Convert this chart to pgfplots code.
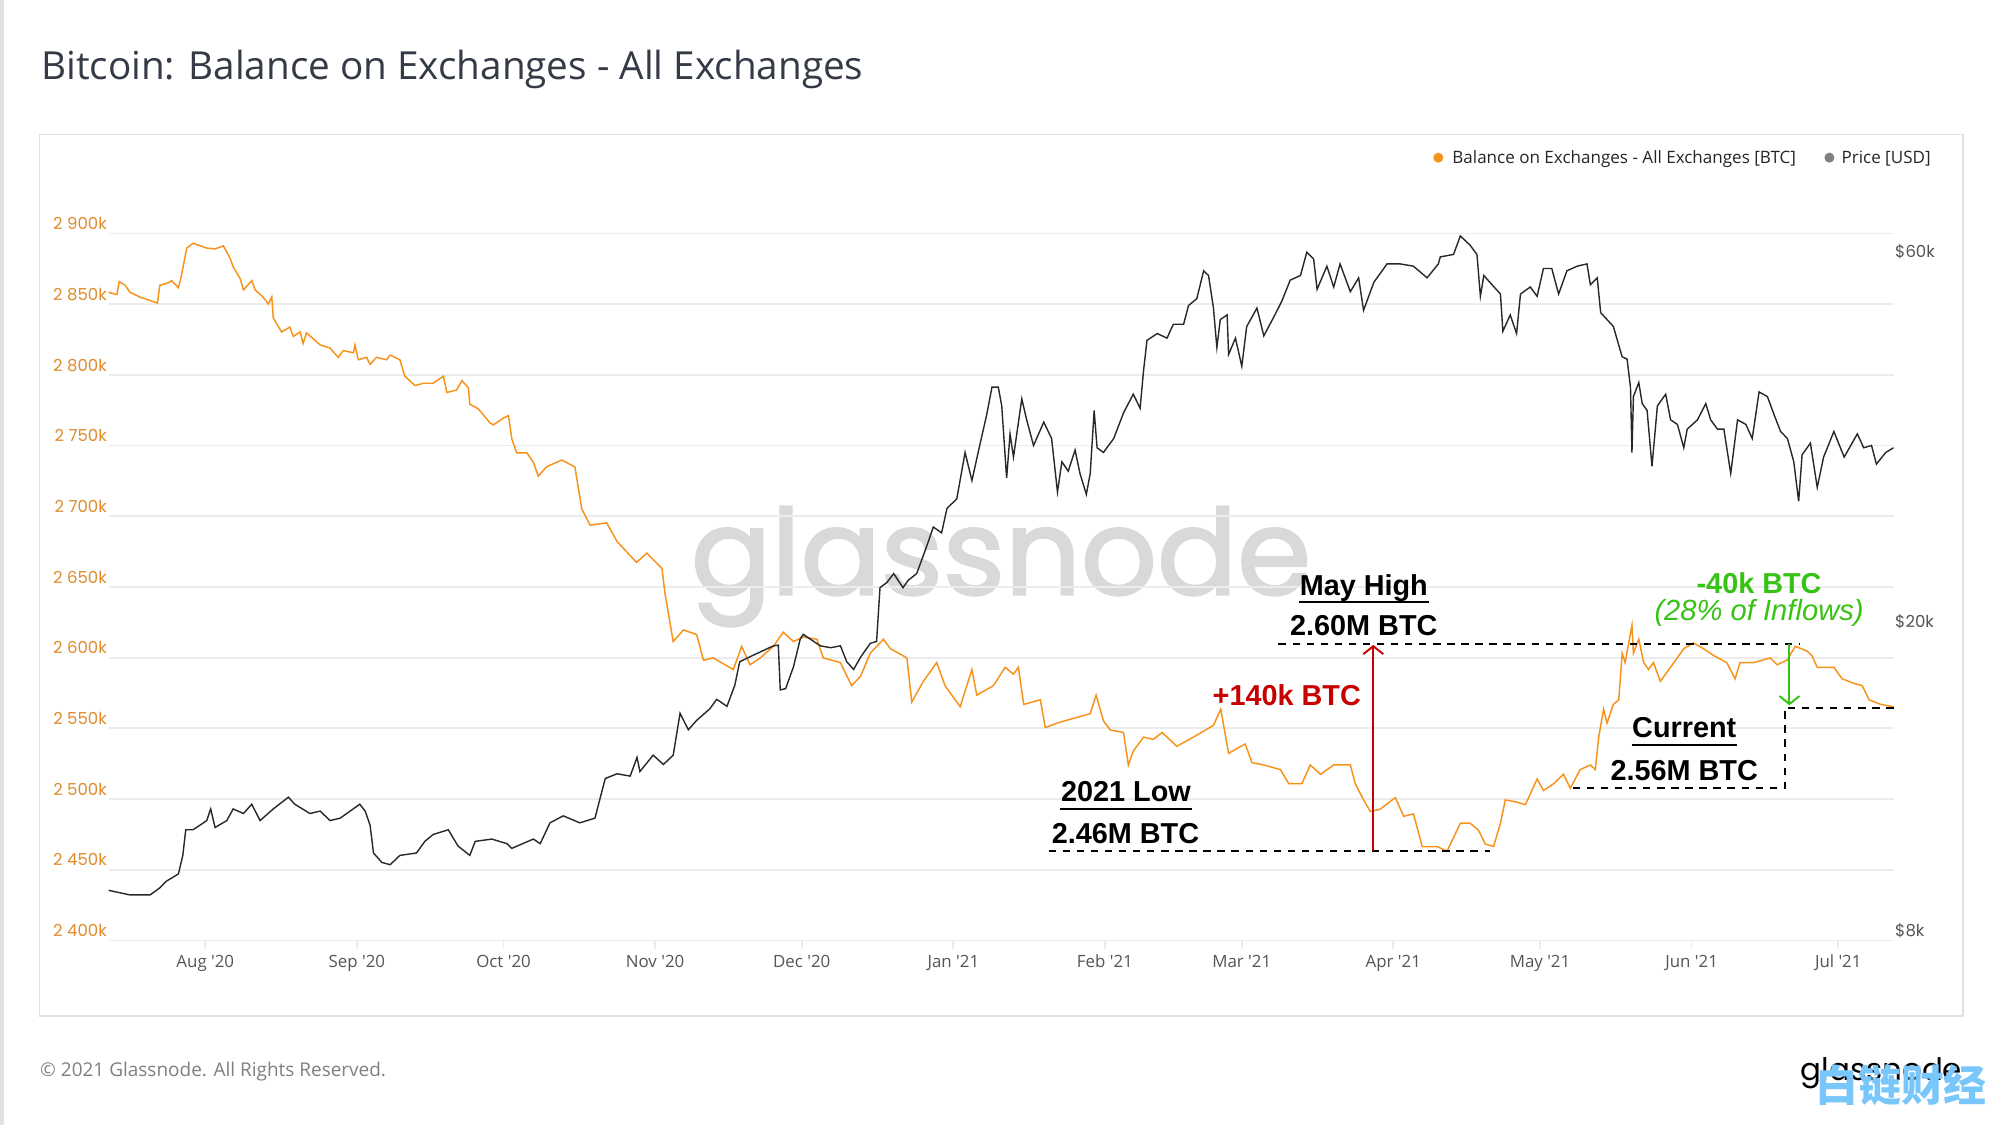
\documentclass[border=0pt]{standalone}
\usepackage{pgfplots}
\usepackage{pgfplotstable}
\pgfplotsset{compat=1.18}
\usepackage{fontspec}
\setmainfont{Open Sans}
\newfontfamily\pop{Poppins}
\newfontfamily\popwm{Poppins}[RawFeature={embolden=2}]
\newfontfamily\lib{Liberation Sans}
\newfontfamily\cjk{Noto Sans CJK SC}
\usetikzlibrary{arrows.meta}

\definecolor{btcorange}{RGB}{247,147,26}
\definecolor{lblorange}{RGB}{222,140,45}
\definecolor{gridgray}{RGB}{236,236,236}
\definecolor{framegray}{RGB}{225,225,225}
\definecolor{titlecol}{RGB}{52,58,70}
\definecolor{pricecol}{RGB}{40,40,40}
\definecolor{redann}{RGB}{200,0,0}
\definecolor{greenann}{RGB}{55,195,20}
\definecolor{wmgray}{RGB}{217,217,217}
\definecolor{cjkblue}{RGB}{120,198,250}
\definecolor{ticktext}{RGB}{85,85,85}

\pgfplotstableread{
day bal
-19.8 2858.4
-18.1 2856.8
-17.6 2866.0
-16.4 2863.4
-15.4 2858.4
-13.4 2855.1
-10.6 2851.8
-9.8 2850.8
-9.3 2863.4
-7.6 2865.1
-6.9 2866.7
-5.5 2861.7
-4.9 2869.9
-3.8 2889.7
-2.5 2893.1
0.3 2889.7
2.0 2889.1
3.7 2891.3
5.0 2883.1
5.7 2876.5
7.1 2868.3
7.8 2860.1
9.5 2866.7
10.2 2860.1
11.8 2855.1
12.9 2850.2
13.6 2855.1
13.9 2840.3
15.6 2830.4
17.3 2833.8
18.0 2827.2
19.4 2830.4
20.0 2822.2
20.7 2829.7
23.5 2821.2
25.5 2819.0
27.2 2812.4
28.2 2817.2
30.3 2815.6
30.6 2821.2
31.3 2810.7
33.0 2812.4
33.7 2807.4
35.0 2812.4
37.1 2810.7
37.8 2814.0
39.8 2810.7
40.8 2799.1
42.9 2792.5
44.6 2794.1
46.6 2794.1
48.7 2799.1
49.4 2787.6
51.4 2789.3
52.5 2795.9
53.8 2790.9
54.1 2779.3
55.8 2776.1
58.2 2766.2
58.9 2764.6
61.0 2769.5
62.0 2771.2
62.7 2754.7
63.7 2744.8
65.8 2744.8
67.1 2738.2
68.1 2728.3
69.8 2735.0
72.9 2739.8
75.6 2734.9
77.0 2705.3
78.7 2693.7
82.1 2695.4
84.2 2682.2
88.2 2667.4
90.3 2673.9
93.4 2663.1
94.0 2646.0
95.7 2611.4
97.8 2619.6
100.5 2616.3
101.9 2598.2
103.9 2599.8
108.0 2591.6
109.7 2608.0
111.4 2595.0
113.5 2599.8
116.2 2608.0
118.2 2618.0
120.3 2611.4
122.3 2614.6
125.1 2613.0
126.4 2599.8
129.9 2596.5
132.2 2580.2
134.0 2586.7
136.0 2603.1
138.7 2613.0
140.1 2606.4
143.5 2599.8
144.5 2568.6
146.9 2583.4
149.6 2596.5
151.3 2580.2
154.4 2565.3
156.8 2591.6
157.8 2573.5
161.2 2580.2
163.6 2593.2
165.3 2588.3
166.3 2593.2
167.4 2566.9
170.8 2570.2
171.8 2550.5
174.2 2553.7
177.6 2557.1
181.0 2560.3
182.2 2573.5
183.7 2555.3
185.1 2548.8
187.8 2547.1
188.8 2524.1
189.8 2533.9
191.9 2543.8
193.9 2542.2
195.7 2547.1
198.7 2537.3
202.1 2543.8
206.2 2552.1
207.7 2563.6
209.3 2532.3
211.0 2535.7
212.7 2538.9
214.1 2525.7
216.5 2524.1
219.9 2520.8
221.6 2510.9
224.3 2510.9
226.0 2524.1
228.1 2517.5
230.8 2524.1
234.2 2524.1
235.2 2510.9
236.9 2499.4
238.3 2491.2
240.3 2492.8
243.4 2501.0
245.1 2487.8
247.1 2489.5
248.9 2466.4
251.9 2466.4
254.0 2463.2
256.7 2482.9
258.7 2482.9
260.4 2478.0
261.8 2468.2
263.5 2466.4
264.9 2482.9
265.9 2499.4
268.3 2497.8
270.0 2496.0
272.4 2514.2
273.7 2506.0
275.8 2510.9
277.8 2517.5
279.2 2507.6
281.2 2520.8
283.3 2524.1
284.3 2520.8
285.0 2543.8
286.0 2563.6
286.7 2553.7
288.0 2566.9
289.1 2570.2
289.8 2603.1
290.4 2596.5
291.8 2622.9
292.1 2603.1
293.2 2613.0
294.2 2596.5
295.2 2591.6
296.2 2596.5
297.6 2583.3
299.7 2593.2
302.4 2606.4
304.4 2610.4
306.4 2606.4
308.5 2601.5
311.2 2596.5
312.9 2585.0
313.9 2596.5
316.7 2596.5
320.1 2599.8
321.5 2595.0
323.5 2598.2
325.2 2608.0
327.6 2604.7
328.6 2601.5
329.7 2593.2
333.1 2593.2
334.8 2585.0
337.2 2581.8
338.9 2580.2
340.3 2570.2
342.7 2566.9
345.3 2565.3
}\baltable

\pgfplotstableread{
day price
-19.8 9281
-15.4 9154
-11.3 9154
-9.3 9348
-7.9 9541
-5.5 9742
-4.6 10293
-4.0 11106
-2.5 11106
-1.1 11258
0.3 11413
1.1 11814
2.0 11182
4.4 11413
5.7 11814
7.8 11654
9.5 11980
11.2 11413
13.9 11814
17.0 12232
18.3 11980
21.4 11654
23.5 11738
25.5 11413
27.6 11496
31.6 11980
32.7 11738
33.7 11258
34.4 10367
36.1 10081
37.8 10012
39.8 10293
43.2 10367
44.9 10730
46.6 10952
49.7 11106
51.7 10581
54.1 10293
55.2 10730
58.6 10804
61.7 10657
62.7 10510
67.1 10804
68.5 10657
70.5 11336
73.2 11574
76.6 11336
79.7 11496
81.8 12929
84.2 13111
86.9 13022
88.3 13762
88.9 13201
91.6 13856
93.7 13479
95.7 13856
97.1 15686
98.8 14943
100.5 15362
103.2 15901
104.6 16353
106.7 16016
108.3 17046
109.3 18280
112.1 18643
116.2 19166
117.2 19202
117.6 16815
118.7 16879
120.3 18006
121.7 19570
122.3 19823
125.8 19166
127.9 19057
129.9 19166
131.2 18280
132.6 17870
134.1 18558
136.0 19304
137.3 19422
138.0 22770
139.4 23118
140.8 23738
142.7 22770
143.8 23286
145.5 23738
147.6 25795
148.9 27259
150.6 26790
151.7 28815
153.7 29623
155.4 34002
156.8 31285
158.5 34955
159.8 37974
160.9 41266
162.2 41266
162.9 39038
163.9 31510
164.6 35929
165.3 33541
167.0 39860
168.0 37461
169.4 34718
171.5 37206
173.1 35442
174.3 30235
175.2 33074
176.5 32173
177.9 34246
178.9 31954
180.2 30030
181.0 31954
181.8 38510
182.4 34481
183.7 34002
185.8 35442
187.8 38234
189.8 40416
191.2 38773
191.9 43300
192.6 47402
194.7 48382
196.7 47726
198.0 49734
200.1 49734
201.1 52558
202.8 53664
204.2 58280
205.2 57467
206.2 52181
206.9 46426
207.6 50433
209.0 51125
209.3 45470
210.7 47726
212.0 43910
213.0 49397
215.1 52181
216.5 48053
218.5 50759
220.2 53280
221.9 56690
224.0 57467
225.3 61588
226.7 60320
227.4 55165
229.4 59079
230.8 55542
232.1 59482
234.2 54770
235.9 57078
236.9 51826
239.0 56307
241.7 59482
244.4 59482
247.1 59079
249.9 57078
252.2 59482
252.6 60732
255.3 61171
256.7 64621
258.7 62860
260.1 61171
260.8 54031
261.5 57467
263.2 55902
264.9 54397
265.4 48712
266.9 51125
268.2 48382
269.0 54397
271.0 55542
272.4 54031
273.7 58680
275.4 58680
276.8 54397
278.5 58280
280.6 59079
282.6 59482
283.3 55902
284.7 57078
285.4 51474
286.7 50433
288.0 49397
289.1 46743
289.8 45162
290.8 44838
291.5 41266
291.8 34002
292.1 40134
293.2 41832
293.9 39305
294.9 38510
295.9 32626
297.0 39038
298.7 40416
299.7 37461
301.1 36954
302.4 34481
303.1 36436
305.2 37461
306.9 39305
307.9 37461
309.3 36436
310.6 36436
312.0 31954
313.4 37461
315.1 36954
316.4 35442
317.8 40686
319.5 40134
320.9 37990
322.2 36188
323.6 35442
324.9 33074
325.9 29410
326.6 33770
328.3 34955
329.7 30651
331.0 33541
333.1 36188
335.2 33541
337.9 35929
339.2 34481
340.8 34718
341.8 32850
343.7 34002
345.3 34481
}\pricetable

\newcommand{\annfont}{\lib\bfseries\fontsize{8.2}{10}\selectfont}
\pgfplotsset{base/.style={scale only axis, width=17.85cm, height=7.069cm,
  at={(1.085cm,1.846cm)}, anchor=south west, xmin=-19.8, xmax=345.3}}

\begin{document}
\begin{tikzpicture}
\fill[white] (0,0) rectangle (20,11.25);
\useasboundingbox (0,0) rectangle (20,11.25);
\draw[framegray, line width=0.9pt] (0.02,0) -- (0.02,11.25);
\draw[framegray, line width=0.45pt] (0.395,1.09) rectangle (19.63,9.907);
\node[anchor=base west, inner sep=0, text=titlecol, font=\fontsize{11}{13}\selectfont] at (0.405,10.45) {Bitcoin: Balance on Exchanges - All Exchanges};
% legend
\fill[btcorange] (14.383,9.673) circle[radius=0.05];
\node[anchor=base west, inner sep=0, font=\fontsize{4.85}{6}\selectfont, text=black!85] at (14.517,9.617) {Balance on Exchanges - All Exchanges [BTC]};
\fill[gray] (18.294,9.673) circle[radius=0.05];
\node[anchor=base west, inner sep=0, font=\fontsize{4.85}{6}\selectfont, text=black!85] at (18.409,9.617) {Price [USD]};
% watermark
\node[anchor=base, inner sep=0, text=wmgray, font=\popwm\fontsize{33.8}{40}\selectfont] at (10.01,5.306) {glassnode};
% footer
\node[anchor=base west, inner sep=0, text=gray, font=\fontsize{5.4}{6}\selectfont] at (0.395,0.49) {© 2021 Glassnode. All Rights Reserved.};
\node[anchor=base west, inner sep=0, font=\pop\fontsize{8.8}{10}\selectfont] at (18.0,0.45) {glassnode};
\node[inner sep=0, text=cjkblue, font=\cjk\bfseries\fontsize{12.2}{14}\selectfont] at (19.01,0.40) {白链财经};

% balance axis
\begin{axis}[base, ymin=2400, ymax=2900,
  axis line style={draw=none},
  ymajorgrids, grid style={gridgray, line width=0.5pt},
  ytick={2400,2450,2500,2550,2600,2650,2700,2750,2800,2850,2900},
  yticklabels={2 400k,2 450k,2 500k,2 550k,2 600k,2 650k,2 700k,2 750k,2 800k,2 850k,2 900k},
  yticklabel style={anchor=base east, inner sep=0pt, xshift=-0.1mm, yshift=0.38mm, font=\pop\fontsize{4.7}{5}\selectfont, text=lblorange},
  xtick={0,31,61,92,122,153,184,212,243,273,304,334},
  xticklabels={Aug \textquotesingle20,Sep \textquotesingle20,Oct \textquotesingle20,Nov \textquotesingle20,Dec \textquotesingle20,Jan \textquotesingle21,Feb \textquotesingle21,Mar \textquotesingle21,Apr \textquotesingle21,May \textquotesingle21,Jun \textquotesingle21,Jul \textquotesingle21},
  xticklabel style={anchor=base, inner sep=0pt, yshift=-2.73mm, font=\fontsize{4.8}{5}\selectfont, text=ticktext},
  tick style={draw=none},
  clip=false]
\pgfplotsinvokeforeach{0,31,61,92,122,153,184,212,243,273,304,334}{
  \draw[gridgray, line width=0.5pt] (axis cs:#1,2400) -- (axis cs:#1,2393.6);
}
\addplot[btcorange, line width=0.42pt] table[x=day, y=bal] {\baltable};
\end{axis}

% price axis
\begin{axis}[base, ymode=log, ymin=8000, ymax=65100,
  axis y line*=right, axis x line=none, axis line style={draw=none},
  ytick={8000,20000,60000}, yticklabels={\$8k,\$20k,\$60k},
  yticklabel style={anchor=base west, inner sep=0pt, xshift=0.1mm, yshift=0.38mm, font=\pop\fontsize{4.7}{5}\selectfont, text=ticktext},
  tick style={draw=none}, minor tick style={draw=none}]
\addplot[pricecol, line width=0.4pt] table[x=day, y=price] {\pricetable};
\end{axis}

% annotations
\begin{axis}[base, ymin=2400, ymax=2900, hide axis, clip=false]
\draw[black, line width=0.55pt, dash pattern=on 2.1pt off 1.9pt] (axis cs:219.5,2609.4) -- (axis cs:325.9,2609.4);
\draw[black, line width=0.55pt, dash pattern=on 2.1pt off 1.9pt] (axis cs:172.5,2463.2) -- (axis cs:262.8,2463.2);
\draw[black, line width=0.55pt, dash pattern=on 2.1pt off 1.9pt] (axis cs:279.7,2508.0) -- (axis cs:323.1,2508.0) -- (axis cs:323.1,2564.7) -- (axis cs:346.0,2564.7);
\draw[redann, line width=0.55pt, -{Straight Barb[length=0.8mm, width=2mm]}] (axis cs:238.9,2463.2) -- (axis cs:238.9,2609.0);
\draw[greenann, line width=0.55pt, -{Straight Barb[length=0.8mm, width=2mm]}] (axis cs:324.0,2609.4) -- (axis cs:324.0,2566.3);
\node[anchor=base, inner sep=0, font=\annfont] (mh) at (axis cs:236.95,2644.1) {May High};
\draw[line width=0.6pt] ([yshift=-2pt]mh.base west) -- ([yshift=-2pt]mh.base east);
\node[anchor=base, inner sep=0, font=\annfont] at (axis cs:236.95,2615.9) {2.60M BTC};
\node[anchor=base, inner sep=0, font=\annfont, text=redann] at (axis cs:221.2,2566.3) {+140k BTC};
\node[anchor=base, inner sep=0, font=\annfont] (lw) at (axis cs:188.3,2497.9) {2021 Low};
\draw[line width=0.6pt] ([yshift=-2pt]lw.base west) -- ([yshift=-2pt]lw.base east);
\node[anchor=base, inner sep=0, font=\annfont] at (axis cs:188.2,2468.4) {2.46M BTC};
\node[anchor=base, inner sep=0, font=\annfont] (cu) at (axis cs:302.5,2543.5) {Current};
\draw[line width=0.6pt] ([yshift=-2pt]cu.base west) -- ([yshift=-2pt]cu.base east);
\node[anchor=base, inner sep=0, font=\annfont] at (axis cs:302.5,2513.3) {2.56M BTC};
\node[anchor=base, inner sep=0, font=\annfont, text=greenann] at (axis cs:317.8,2645.3) {-40k BTC};
\node[anchor=base, inner sep=0, font=\lib\itshape\fontsize{8.3}{10}\selectfont, text=greenann] at (axis cs:317.8,2626.0) {(28\% of Inflows)};
\end{axis}
\end{tikzpicture}
\end{document}
